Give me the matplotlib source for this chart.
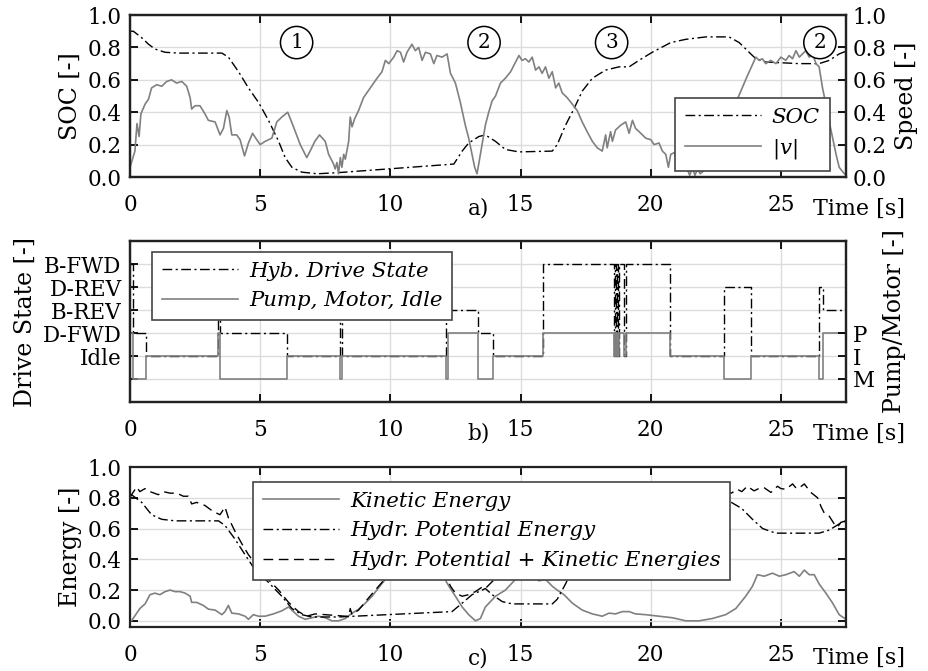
import matplotlib
matplotlib.use("Agg")
import matplotlib.pyplot as plt

plt.rcParams['font.family'] = ['DejaVu Serif']
plt.rcParams['mathtext.fontset'] = 'dejavuserif'
plt.rcParams['font.size'] = 15.5

# --- a) state of charge and vehicle speed ---
soc_t = [0, 0.13, 0.45, 0.71, 0.96, 1.35, 1.86, 3.53, 3.78, 4.17, 4.55, 4.94, 5.32, 5.71,
         5.96, 6.22, 6.6, 7.2, 8.0, 12.44, 12.76, 13.01, 13.4, 13.65, 14.04, 14.42, 14.94,
         16.22, 16.41, 16.73, 17.05, 17.37, 17.76, 18.27, 18.78, 19.17, 19.55, 20.06, 20.77,
         21.35, 22.12, 23.01, 23.4, 23.78, 24.04, 24.42, 25.71, 26.47, 26.86, 27.24, 27.56]
soc_v = [0.90, 0.90, 0.86, 0.82, 0.79, 0.77, 0.765, 0.765, 0.74, 0.65, 0.55, 0.46, 0.35, 0.22,
         0.12, 0.06, 0.03, 0.02, 0.027, 0.08, 0.16, 0.21, 0.25, 0.26, 0.22, 0.17, 0.155,
         0.16, 0.20, 0.32, 0.42, 0.53, 0.61, 0.66, 0.68, 0.68, 0.72, 0.77, 0.83,
         0.85, 0.865, 0.865, 0.83, 0.77, 0.73, 0.71, 0.70, 0.70, 0.72, 0.76, 0.78]

speed_t = [0, 0.04, 0.19, 0.27, 0.35, 0.42, 0.58, 0.71, 0.83, 1.03, 1.22, 1.41, 1.60, 1.79,
           1.99, 2.18, 2.31, 2.37, 2.50, 2.69, 2.88, 3.01, 3.27, 3.46, 3.59, 3.72, 3.81, 3.91,
           4.10, 4.23, 4.40, 4.55, 4.71, 4.83, 5.00, 5.19, 5.45, 5.64, 5.83, 6.06, 6.28, 6.54,
           6.79, 6.92, 7.10, 7.28, 7.50, 7.63, 7.82, 7.88, 7.95, 8.01, 8.08, 8.14, 8.21, 8.27,
           8.40, 8.46, 8.53, 8.63, 8.78, 8.97, 9.23, 9.49, 9.68, 9.81, 9.94, 10.13, 10.26,
           10.39, 10.51, 10.64, 10.83, 10.96, 11.09, 11.22, 11.35, 11.54, 11.67, 11.79, 11.99,
           12.18, 12.31, 12.50, 12.69, 12.88, 13.01, 13.14, 13.24, 13.33, 13.46, 13.65, 13.78,
           13.91, 14.04, 14.23, 14.42, 14.62, 14.81, 14.94, 15.06, 15.19, 15.32, 15.45, 15.58,
           15.71, 15.83, 15.96, 16.09, 16.22, 16.35, 16.47, 16.60, 16.79, 16.99, 17.18, 17.37,
           17.56, 17.76, 17.95, 18.14, 18.27, 18.33, 18.46, 18.53, 18.65, 18.85, 19.04, 19.17,
           19.30, 19.42, 19.62, 19.81, 20.01, 20.13, 20.32, 20.45, 20.58, 20.68, 20.77, 20.90,
           21.10, 21.40, 21.50, 21.60, 21.70, 21.80, 21.90, 22.20, 22.60, 23.00, 23.33, 23.70,
           24.04, 24.17, 24.29, 24.42, 24.61, 24.81, 25.00, 25.19, 25.32, 25.45, 25.58, 25.71,
           25.83, 25.96, 26.09, 26.22, 26.35, 26.47, 26.60, 26.73, 26.86, 26.99, 27.12, 27.24,
           27.44, 27.56]
speed_v = [0.06, 0.08, 0.16, 0.33, 0.25, 0.39, 0.45, 0.48, 0.55, 0.57, 0.56, 0.59, 0.60, 0.58,
           0.59, 0.56, 0.49, 0.42, 0.44, 0.44, 0.39, 0.35, 0.34, 0.26, 0.30, 0.41, 0.37, 0.26,
           0.26, 0.23, 0.13, 0.21, 0.27, 0.24, 0.20, 0.22, 0.24, 0.34, 0.37, 0.40, 0.31, 0.20,
           0.12, 0.16, 0.22, 0.26, 0.22, 0.14, 0.08, 0.05, 0.09, 0.02, 0.12, 0.06, 0.14, 0.11,
           0.22, 0.37, 0.31, 0.36, 0.41, 0.49, 0.55, 0.61, 0.65, 0.72, 0.70, 0.74, 0.78,
           0.77, 0.71, 0.77, 0.82, 0.78, 0.80, 0.72, 0.77, 0.76, 0.70, 0.75, 0.74,
           0.76, 0.64, 0.58, 0.46, 0.32, 0.24, 0.14, 0.06, 0.02, 0.14, 0.32, 0.40,
           0.47, 0.50, 0.58, 0.61, 0.65, 0.71, 0.75, 0.72, 0.73, 0.71, 0.74, 0.66,
           0.68, 0.64, 0.68, 0.61, 0.65, 0.55, 0.58, 0.52, 0.49, 0.45, 0.41, 0.34,
           0.28, 0.22, 0.18, 0.16, 0.26, 0.18, 0.28, 0.22, 0.29, 0.32, 0.34, 0.27,
           0.35, 0.30, 0.27, 0.24, 0.23, 0.20, 0.21, 0.16, 0.14, 0.06, 0.14, 0.15,
           0.10, 0.05, 0.01, 0.06, 0.01, 0.05, 0.02, 0.06, 0.15, 0.30, 0.48, 0.62,
           0.74, 0.72, 0.73, 0.70, 0.72, 0.70, 0.74, 0.72, 0.75, 0.73, 0.78, 0.74,
           0.76, 0.78, 0.74, 0.76, 0.70, 0.68, 0.55, 0.45, 0.34, 0.24, 0.14, 0.06,
           0.02, 0.01]

phase_t = [6.4, 13.6, 18.5, 26.5]
phase_label = ['1', '2', '3', '2']

# --- b) drive state and pump/motor mode (step signals) ---
state_t = [0, 0.12, 0.6, 3.38, 3.47, 6.03, 8.08, 8.14, 12.13, 12.22, 13.35, 13.95, 15.88,
           18.58, 18.62, 18.66, 18.70, 18.74, 18.78, 18.98, 19.04, 20.74, 22.80, 23.85,
           26.47, 26.62, 27.6]
drive_state = [4, 1, 0, 2, 1, 0, 3, 0, 3, 2, 1, 0, 4,
               0, 4, 0, 4, 0, 4, 0, 4, 0, 3, 0,
               3, 2, 2]
pump_state = [1, -1, 0, 1, -1, 0, -1, 0, -1, 1, -1, 0, 1,
              0, 1, 0, 1, 0, 1, 0, 1, 0, -1, 0,
              -1, 1, 1]
drive_labels = ['', 'Idle', 'D-FWD', 'B-REV', 'D-REV', 'B-FWD']
pump_labels = ['M', 'I', 'P']

# --- c) normalised energies ---
kin_t = [0, 0.06, 0.26, 0.38, 0.58, 0.77, 0.96, 1.15, 1.35, 1.54, 1.73, 1.92, 2.12, 2.31,
         2.37, 2.56, 2.82, 3.01, 3.27, 3.53, 3.65, 3.78, 3.91, 4.17, 4.42, 4.55, 4.74, 4.94,
         5.19, 5.51, 5.83, 6.09, 6.28, 6.47, 6.73, 6.99, 7.24, 7.5, 7.76, 8.01, 8.27, 8.53,
         8.78, 9.04, 9.30, 9.55, 9.81, 10.0, 10.3, 10.6, 10.8, 11.1, 11.4, 11.7, 12.0, 12.25,
         12.5, 12.76, 13.01, 13.27, 13.46, 13.65, 14.04, 14.42, 14.81, 15.0, 15.32, 15.51,
         15.71, 15.96, 16.22, 16.41, 16.67, 16.99, 17.37, 17.76, 18.14, 18.40, 18.65, 18.91,
         19.17, 19.42, 19.81, 20.32, 20.84, 21.35, 21.86, 22.37, 22.88, 23.27, 23.65, 23.91,
         24.1, 24.36, 24.68, 24.94, 25.19, 25.51, 25.71, 25.9, 26.09, 26.28, 26.47, 26.73,
         26.99, 27.24, 27.5]
kin_e = [0.0, 0.0, 0.05, 0.08, 0.11, 0.17, 0.18, 0.17, 0.19, 0.20, 0.19, 0.19, 0.18, 0.16,
         0.12, 0.12, 0.10, 0.076, 0.07, 0.04, 0.06, 0.10, 0.05, 0.045, 0.03, 0.01, 0.04, 0.03,
         0.03, 0.045, 0.065, 0.09, 0.06, 0.03, 0.01, 0.02, 0.03, 0.02, 0.0, 0.0, 0.015, 0.05,
         0.075, 0.115, 0.16, 0.215, 0.27, 0.31, 0.28, 0.33, 0.29, 0.33, 0.29, 0.31, 0.30, 0.225,
         0.16, 0.09, 0.04, 0.0, 0.015, 0.09, 0.16, 0.20, 0.27, 0.30, 0.29, 0.30,
         0.26, 0.27, 0.225, 0.20, 0.17, 0.115, 0.07, 0.045, 0.03, 0.05, 0.045, 0.06,
         0.06, 0.045, 0.04, 0.03, 0.02, 0.0, 0.0, 0.015, 0.04, 0.08, 0.16, 0.225,
         0.30, 0.29, 0.31, 0.29, 0.30, 0.32, 0.29, 0.33, 0.30, 0.30, 0.24, 0.18,
         0.115, 0.04, 0.01]

pot_t = [0, 0.06, 0.45, 0.83, 1.22, 1.73, 3.4, 3.65, 4.04, 4.42, 4.81, 5.32, 5.83, 6.22,
         6.6, 6.99, 8.0, 12.37, 12.76, 13.14, 13.53, 13.65, 13.91, 14.3, 14.68, 16.22, 16.41,
         16.73, 17.05, 17.5, 18.3, 19.2, 20.0, 21.0, 22.0, 22.8, 23.1, 23.5, 23.91, 24.3, 24.8,
         26.47, 26.86, 27.24, 27.5]
pot_e = [0.82, 0.82, 0.77, 0.69, 0.66, 0.65, 0.65, 0.62, 0.53, 0.43, 0.33, 0.25, 0.16, 0.08,
         0.04, 0.025, 0.025, 0.06, 0.115, 0.17, 0.20, 0.21, 0.17, 0.125, 0.11, 0.11, 0.14,
         0.24, 0.355, 0.50, 0.60, 0.62, 0.70, 0.75, 0.77, 0.77, 0.77, 0.73, 0.66, 0.60, 0.57,
         0.57, 0.59, 0.63, 0.65]

sum_t = [0, 0.06, 0.26, 0.38, 0.58, 0.77, 1.09, 1.28, 1.54, 1.80, 2.05, 2.24, 2.37, 2.56,
         2.88, 3.2, 3.46, 3.65, 3.78, 4.04, 4.3, 4.55, 5.19, 5.71, 6.09, 6.47, 6.79, 7.11,
         7.5, 7.88, 8.27, 8.40, 8.46, 8.53, 8.78, 9.17, 9.55, 9.94, 10.5, 11.0, 11.5, 12.12,
         12.31, 12.5, 12.76, 13.01, 13.27, 13.53, 13.65, 14.0, 14.3, 15.0, 16.0, 16.5, 17.0,
         17.5, 18.3, 19.2, 20.0, 21.0, 22.0, 22.6, 22.95, 23.1, 23.33, 23.5, 23.71, 23.97,
         24.15, 24.36, 24.62, 24.87, 25.0, 25.19, 25.45, 25.6, 25.71, 25.9, 26.15, 26.41,
         26.55, 26.67, 26.86, 27.05, 27.18, 27.3, 27.5]
sum_e = [0.80, 0.82, 0.87, 0.84, 0.86, 0.84, 0.82, 0.84, 0.83, 0.83, 0.81, 0.81, 0.76, 0.77,
         0.75, 0.71, 0.69, 0.74, 0.67, 0.58, 0.50, 0.43, 0.29, 0.20, 0.12, 0.06, 0.03, 0.045,
         0.04, 0.035, 0.03, 0.03, 0.08, 0.04, 0.07, 0.15, 0.225, 0.30, 0.36, 0.35, 0.37, 0.30,
         0.225, 0.18, 0.16, 0.17, 0.19, 0.22, 0.21, 0.27, 0.33, 0.40, 0.36, 0.35, 0.47,
         0.57, 0.64, 0.68, 0.74, 0.77, 0.78, 0.80, 0.845, 0.83, 0.855, 0.84, 0.875, 0.845,
         0.86, 0.865, 0.835, 0.875, 0.86, 0.855, 0.89, 0.86, 0.865, 0.89, 0.835, 0.80,
         0.74, 0.70, 0.68, 0.63, 0.61, 0.64, 0.65]

DASHDOT = (0, (7, 2.5, 1.5, 2.5))
DASHED = (0, (7, 4))
GRAY = '#808080'
x_ticks = [0, 5, 10, 15, 20, 25]
LABEL_SIZE = 17
LEGEND_SIZE = 15.3


def style_axis(ax, letter):
    ax.set_xlim(0, 27.5)
    ax.set_xticks(x_ticks)
    ax.grid(color='#dcdcdc', lw=1)
    ax.set_axisbelow(True)
    ax.tick_params(direction='in', top=True, length=6, width=1.3, pad=12)
    ax.tick_params(axis='y', pad=6)
    for s in ax.spines.values():
        s.set_linewidth(1.6)
        s.set_color('#222222')
    ax.text(0.487, -0.195, letter, transform=ax.transAxes, ha='center', va='center')
    ax.text(1.018, -0.195, 'Time [s]', transform=ax.transAxes, ha='center', va='center',
            fontsize=16)


def style_twin(axr):
    axr.tick_params(direction='in', length=6, width=1.3, pad=5)
    for s in axr.spines.values():
        s.set_linewidth(1.6)
        s.set_color('#222222')


def legend(ax, handles, anchor, hl):
    leg = ax.legend(handles=handles, loc='upper left', bbox_to_anchor=anchor,
                    borderaxespad=0, fancybox=False, framealpha=1, handlelength=hl,
                    prop={'style': 'italic', 'size': LEGEND_SIZE}, labelspacing=0.5,
                    borderpad=0.46, handletextpad=0.5)
    leg.get_frame().set_edgecolor('#444444')
    leg.get_frame().set_linewidth(1.2)
    return leg


fig = plt.figure(figsize=(9.29, 6.71), dpi=100)
ax1 = fig.add_axes([0.1399, 0.7362, 0.7707, 0.2414])
ax2 = fig.add_axes([0.1399, 0.4009, 0.7707, 0.2399])
ax3 = fig.add_axes([0.1399, 0.0656, 0.7707, 0.2384])

# a) SOC / speed
ax1r = ax1.twinx()
l_soc, = ax1.plot(soc_t, soc_v, color='black', lw=1.0, ls=DASHDOT, label='SOC')
l_v, = ax1r.plot(speed_t, speed_v, color=GRAY, lw=1.2, label=r'$|v|$')
style_axis(ax1, 'a)')
style_twin(ax1r)
for axx in (ax1, ax1r):
    axx.set_ylim(0, 1)
    axx.set_yticks([0, 0.2, 0.4, 0.6, 0.8, 1.0])
    axx.set_yticklabels(['0.0', '0.2', '0.4', '0.6', '0.8', '1.0'])
ax1.set_ylabel('SOC [-]', fontsize=LABEL_SIZE, labelpad=4)
ax1r.set_ylabel('Speed [-]', fontsize=LABEL_SIZE, labelpad=6)
for t, lab in zip(phase_t, phase_label):
    ax1r.text(t, 0.83, lab, ha='center', va='center', fontsize=14.5,
              bbox=dict(boxstyle='circle,pad=0.33', fc='white', ec='black', lw=1.1))
legend(ax1r, [l_soc, l_v], (0.761, 0.488), 3.6)

# b) drive state / pump-motor
ax2r = ax2.twinx()
l_drive, = ax2.plot(state_t, drive_state, color='black', lw=1.0, ls=DASHDOT,
                    drawstyle='steps-post', label='Hyb. Drive State')
l_pump, = ax2.plot(state_t, pump_state, color=GRAY, lw=1.2,
                   drawstyle='steps-post', label='Pump, Motor, Idle')
style_axis(ax2, 'b)')
style_twin(ax2r)
ax2.set_ylim(-2, 5)
ax2.set_yticks(range(-1, 5))
ax2.set_yticklabels(drive_labels)
ax2r.set_ylim(-2, 5)
ax2r.set_yticks([-1, 0, 1])
ax2r.set_yticklabels(pump_labels)
ax2.set_ylabel('Drive State [-]', fontsize=LABEL_SIZE, labelpad=4)
ax2r.set_ylabel('Pump/Motor [-]', fontsize=LABEL_SIZE, labelpad=6)
legend(ax2r, [l_drive, l_pump], (0.031, 0.932), 3.6)

# c) energies
l_kin, = ax3.plot(kin_t, kin_e, color=GRAY, lw=1.2, label='Kinetic Energy')
l_pot, = ax3.plot(pot_t, pot_e, color='black', lw=1.0, ls=DASHDOT,
                  label='Hydr. Potential Energy')
l_sum, = ax3.plot(sum_t, sum_e, color='black', lw=1.0, ls=DASHED,
                  label='Hydr. Potential + Kinetic Energies')
style_axis(ax3, 'c)')
ax3.tick_params(right=True)
ax3.set_ylim(-0.04, 1.0)
ax3.set_yticks([0, 0.2, 0.4, 0.6, 0.8, 1.0])
ax3.set_yticklabels(['0.0', '0.2', '0.4', '0.6', '0.8', '1.0'])
ax3.set_ylabel('Energy [-]', fontsize=LABEL_SIZE, labelpad=4)
legend(ax3, [l_kin, l_pot, l_sum], (0.172, 0.906), 3.6)

fig.savefig('out.png', dpi=100)
